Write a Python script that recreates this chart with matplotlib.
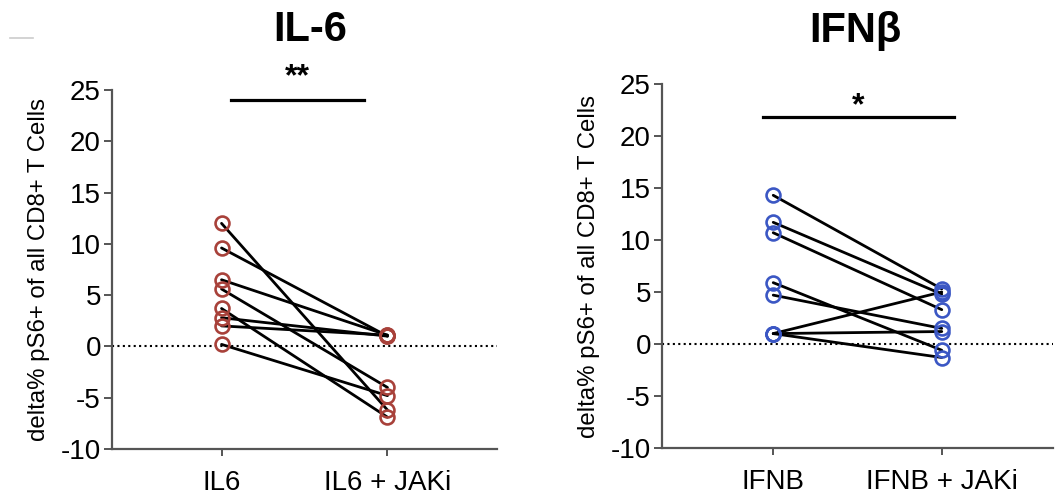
import matplotlib
matplotlib.use("Agg")
import matplotlib.pyplot as plt
from matplotlib.lines import Line2D

plt.rcParams['font.family'] = ['Liberation Sans', 'DejaVu Sans']

# Data
il6_categories = ["IL6", "IL6 + JAKi"]
il6_before = [12.0, 9.6, 6.5, 5.6, 3.7, 2.8, 2.0, 0.2]
il6_after = [-6.2, 1.0, 1.1, -4.0, -6.9, 1.0, 1.1, -4.8]

ifn_categories = ["IFNB", "IFNB + JAKi"]
ifn_before = [14.3, 11.7, 10.7, 5.9, 4.7, 1.0, 1.0, 1.0]
ifn_after = [5.3, 4.8, 3.3, -0.6, 1.5, 5.0, 1.2, -1.3]

yticks = [-10, -5, 0, 5, 10, 15, 20, 25]
ylabel = "delta% pS6+ of all CD8+ T Cells"
titles = ["IL-6", "IFNβ"]

fig = plt.figure(figsize=(10.55, 4.95), dpi=100)

ax1 = fig.add_axes([112/1055, 1-449/495, 385/1055, 359/495])
ax2 = fig.add_axes([662/1055, 1-448/495, 391/1055, 364/495])

axis_color = "#555555"


def draw(ax, cats, before, after, color, stars, bar_x, bar_y, star_y):
    for b, a in zip(before, after):
        ax.plot([0, 1], [b, a], color="black", lw=2.0, zorder=2, solid_capstyle="round")
    ax.plot([0] * len(before), before, linestyle="none", marker="o", ms=10,
            mfc="none", mec=color, mew=1.9, zorder=3)
    ax.plot([1] * len(after), after, linestyle="none", marker="o", ms=10,
            mfc="none", mec=color, mew=1.9, zorder=3)
    ax.axhline(0, color="black", lw=1.5, ls=(0, (1, 1.6)), zorder=1)
    ax.set_xlim(-0.66, 1.66)
    ax.set_ylim(-10, 25)
    ax.set_yticks(yticks)
    ax.set_yticklabels([str(t) for t in yticks])
    ax.set_xticks([0, 1])
    ax.set_xticklabels(cats)
    for s in ["top", "right"]:
        ax.spines[s].set_visible(False)
    for s in ["left", "bottom"]:
        ax.spines[s].set_color(axis_color)
        ax.spines[s].set_linewidth(1.6)
    ax.tick_params(axis="both", colors=axis_color, width=1.4, labelsize=20,
                   labelcolor="black", direction="out")
    ax.tick_params(axis="y", length=6, pad=2)
    ax.tick_params(axis="x", length=5, pad=10)
    ax.set_ylabel(ylabel, fontsize=17.3, labelpad=8)
    ax.plot(bar_x, [bar_y, bar_y], color="black", lw=2.3, clip_on=False)
    ax.text(sum(bar_x) / 2, star_y, stars, ha="center", va="center",
            fontsize=23, fontweight="bold", clip_on=False)


draw(ax1, il6_categories, il6_before, il6_after, "#A8413A", "**",
     [0.06, 0.86], 24.0, 26.2)
draw(ax2, ifn_categories, ifn_before, ifn_after, "#3B57C4", "*",
     [-0.06, 1.07], 21.8, 22.9)

fig.text(310/1055, 1-30/495, titles[0], ha="center", va="center",
         fontsize=30, fontweight="bold")
fig.text(855/1055, 1-31/495, titles[1], ha="center", va="center",
         fontsize=30, fontweight="bold")

fig.add_artist(Line2D([10/1055, 33/1055], [1-38/495, 1-38/495],
                      color="#cccccc", lw=1.2, transform=fig.transFigure))

fig.savefig("out.png", dpi=100)
